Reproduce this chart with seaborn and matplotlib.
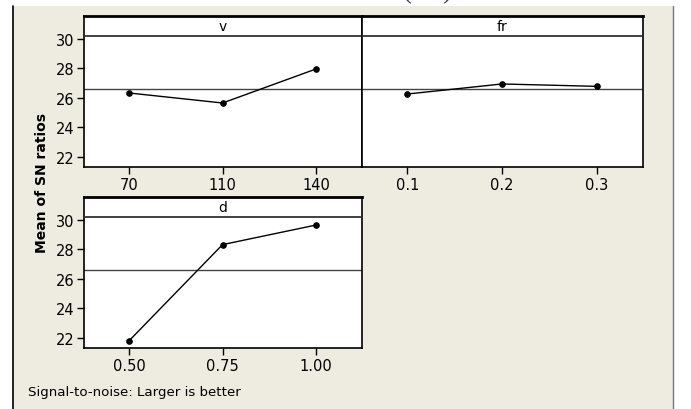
import pandas as pd
import matplotlib.pyplot as plt
import seaborn as sns
from matplotlib.patches import Rectangle

# Datos (medias de razones S/N)
v_levels = ["70", "110", "140"]
v_sn = [26.34, 25.66, 27.97]
fr_levels = ["0.1", "0.2", "0.3"]
fr_sn = [26.27, 26.95, 26.79]
d_levels = ["0.50", "0.75", "1.00"]
d_sn = [21.80, 28.33, 29.66]
factors = ["v", "fr", "d"]

sns.set_style("white")
plt.rcParams['font.family'] = ['DejaVu Sans']
plt.rcParams['text.color'] = 'black'
plt.rcParams['xtick.color'] = 'black'
plt.rcParams['ytick.color'] = 'black'

W, H = 691, 410
fig = plt.figure(figsize=(W / 100, H / 100), dpi=100)
fig.patch.set_facecolor("white")

# fondo beige tipo Minitab
fig.patches.append(Rectangle((13 / W, 0), (673 - 13) / W, 1 - 7 / H,
                             transform=fig.transFigure, facecolor="#EEEBE1",
                             edgecolor="none", zorder=-10))
fig.add_artist(plt.Line2D([13 / W, 13 / W], [0, 1 - 7 / H], color="black", lw=1.2, zorder=-5))
fig.add_artist(plt.Line2D([673 / W, 673 / W], [0, 1 - 7 / H], color="#777777", lw=1, zorder=-5))

# titulo cortado arriba (solo se ve la parte de abajo)
fig.text(0.51, 1 + 2 / H, "Main Effects (Ra)", ha="center", va="baseline",
         fontsize=20, family="Liberation Serif", color="#444444")

df = pd.concat([
    pd.DataFrame({"factor": "v", "level": v_levels, "sn": v_sn}),
    pd.DataFrame({"factor": "fr", "level": fr_levels, "sn": fr_sn}),
    pd.DataFrame({"factor": "d", "level": d_levels, "sn": d_sn}),
])
grand_mean = df["sn"].mean()


def px_axes(x0, x1, y0, y1):
    return fig.add_axes([x0 / W, 1 - y1 / H, (x1 - x0) / W, (y1 - y0) / H])


boxes = {"v": (84, 362, 17, 168), "fr": (362, 643, 17, 168), "d": (84, 362, 198, 349)}

for f in factors:
    ax = px_axes(*boxes[f])
    sub = df[df["factor"] == f]
    sns.pointplot(data=sub, x="level", y="sn", color="black", markers="o",
                  markersize=4, linewidth=1, ax=ax, errorbar=None)
    ax.axhline(grand_mean, color="#444444", lw=1, zorder=1)
    ax.axhline(30.2, color="#333333", lw=1.3, zorder=3)
    ax.text(1, 30.85, f, ha="center", va="center", fontsize=10)
    ax.set_ylim(21.32, 31.56)
    ax.set_xlim(-0.48, 2.49)
    ax.set_facecolor("white")
    for s in ax.spines.values():
        s.set_color("black")
        s.set_linewidth(1.2)
    ax.spines["top"].set_linewidth(2)
    ax.set_yticks([22, 24, 26, 28, 30])
    ax.tick_params(axis="both", direction="out", length=5, width=1, color="black",
                   labelsize=10.5, pad=2, bottom=True, left=True)
    ax.set_xlabel("")
    ax.set_ylabel("")
    if f == "fr":
        ax.tick_params(axis="y", left=False, labelleft=False)

fig.text(42 / W, 1 - 183 / H, "Mean of SN ratios", rotation=90, ha="center",
         va="center", fontsize=10, fontweight="bold")
fig.text(28 / W, 1 - 393 / H, "Signal-to-noise: Larger is better", ha="left",
         va="center", fontsize=9.6)

fig.savefig("out.png", dpi=100, facecolor="white")
